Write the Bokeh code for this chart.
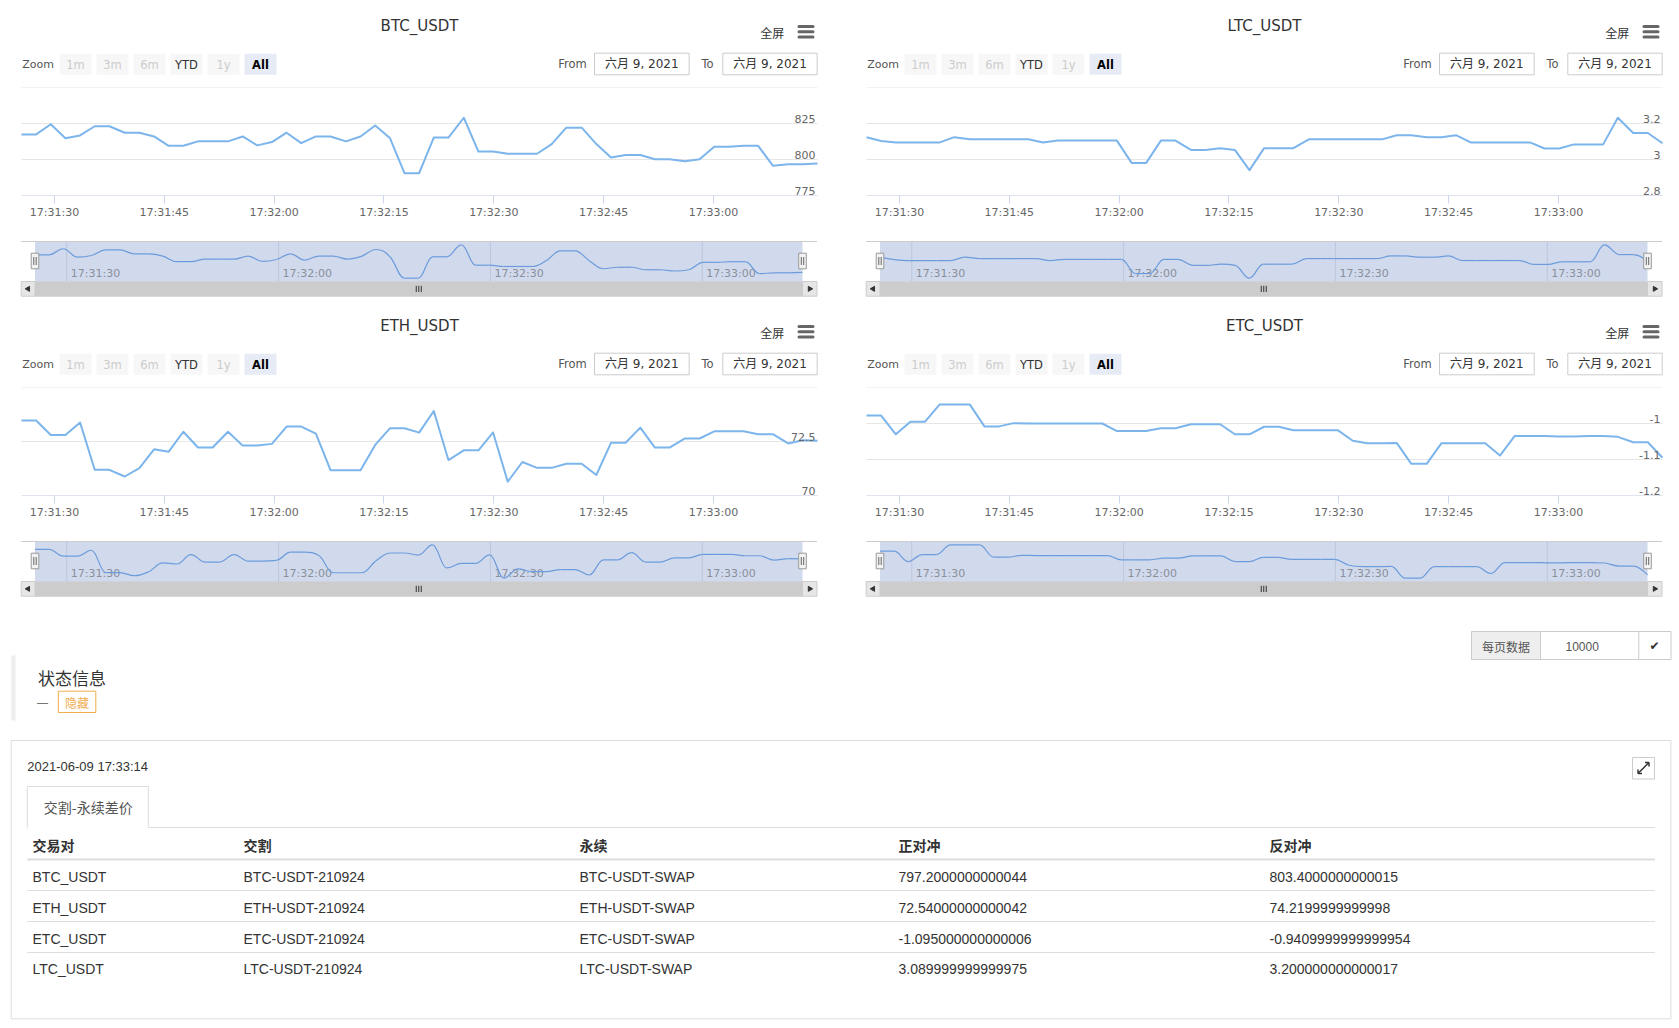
import math
import pandas as pd
from bokeh.plotting import figure
from bokeh.layouts import column, row
from bokeh.models import Range1d, FixedTicker, DatetimeTickFormatter
from bokeh.core.properties import value
from bokeh.embed import file_html
from bokeh.resources import INLINE

# ---------------- data ----------------
DATE = "2021-06-09"
TIMES = [
    "17:31:25.5", "17:31:27.5", "17:31:29.5", "17:31:31.5", "17:31:33.5", "17:31:35.5",
    "17:31:37.5", "17:31:39.6", "17:31:41.6", "17:31:43.6", "17:31:45.6", "17:31:47.6",
    "17:31:49.6", "17:31:51.6", "17:31:53.7", "17:31:55.7", "17:31:57.7", "17:31:59.7",
    "17:32:01.7", "17:32:03.7", "17:32:05.7", "17:32:07.7", "17:32:09.8", "17:32:11.8",
    "17:32:13.8", "17:32:15.8", "17:32:17.8", "17:32:19.8", "17:32:21.8", "17:32:23.8",
    "17:32:25.9", "17:32:27.9", "17:32:29.9", "17:32:31.9", "17:32:33.9", "17:32:35.9",
    "17:32:37.9", "17:32:39.9", "17:32:42.0", "17:32:44.0", "17:32:46.0", "17:32:48.0",
    "17:32:50.0", "17:32:52.0", "17:32:54.0", "17:32:56.1", "17:32:58.1",
    "17:33:00.1", "17:33:02.1", "17:33:04.1", "17:33:06.1", "17:33:08.1", "17:33:10.2",
    "17:33:12.2", "17:33:14.2",
]

BTC = [817.4, 817.4, 824.5, 814.8, 816.7, 823.1, 823.1, 818.6, 818.6, 816.0,
       809.5, 809.5, 812.6, 812.6, 812.6, 816.0, 809.8, 812.1, 818.6, 811.4,
       816.0, 816.0, 812.6, 816.0, 823.6, 815.0, 790.5, 790.5, 815.2, 815.2,
       829.0, 805.5, 805.5, 804.0, 804.0, 804.0, 810.7, 822.1, 822.1, 810.7,
       801.4, 803.1, 803.1, 800.2, 800.2, 798.8, 800.2, 808.8, 808.8, 809.5,
       809.5, 795.7, 796.7, 796.7, 797.2]
LTC = [3.124, 3.103, 3.095, 3.095, 3.095, 3.095, 3.124, 3.112, 3.112, 3.112,
       3.112, 3.112, 3.095, 3.105, 3.105, 3.105, 3.105, 3.105, 2.981, 2.981,
       3.105, 3.105, 3.053, 3.053, 3.063, 3.053, 2.941, 3.063, 3.063, 3.063,
       3.112, 3.112, 3.112, 3.112, 3.112, 3.112, 3.135, 3.135, 3.124, 3.124,
       3.135, 3.095, 3.095, 3.095, 3.095, 3.095, 3.061, 3.061, 3.084, 3.084,
       3.084, 3.232, 3.147, 3.147, 3.09]
ETH = [73.47, 73.47, 72.80, 72.80, 73.38, 71.19, 71.19, 70.88, 71.27, 72.14,
       72.03, 72.95, 72.22, 72.22, 72.95, 72.31, 72.31, 72.39, 73.19, 73.19,
       72.86, 71.17, 71.17, 71.17, 72.34, 73.11, 73.11, 72.91, 73.91, 71.64,
       72.09, 72.09, 72.92, 70.64, 71.55, 71.28, 71.28, 71.47, 71.47, 70.95,
       72.44, 72.44, 73.14, 72.22, 72.22, 72.64, 72.64, 72.97, 72.97, 72.97,
       72.84, 72.84, 72.41, 72.56, 72.54]
ETC = [-0.978, -0.978, -1.030, -0.995, -0.995, -0.947, -0.947, -0.947, -1.008, -1.008,
       -0.999, -1.000, -1.000, -1.000, -1.000, -1.000, -1.000, -1.021, -1.021, -1.021,
       -1.013, -1.013, -1.002, -1.002, -1.002, -1.030, -1.030, -1.009, -1.009, -1.019,
       -1.019, -1.019, -1.019, -1.048, -1.055, -1.055, -1.054, -1.112, -1.112, -1.055,
       -1.055, -1.055, -1.055, -1.089, -1.035, -1.035, -1.035, -1.036, -1.036, -1.035,
       -1.035, -1.037, -1.052, -1.052, -1.095]

BTC_GRID = [775, 800, 825, 850]
BTC_LABEL_AT = [775, 800, 825]
BTC_LABELS = ["775", "800", "825"]
LTC_GRID = [2.8, 3.0, 3.2, 3.4]
LTC_LABEL_AT = [2.8, 3.0, 3.2]
LTC_LABELS = ["2.8", "3", "3.2"]
ETH_GRID = [70, 72.5, 75]
ETH_LABEL_AT = [70, 72.5]
ETH_LABELS = ["70", "72.5"]
ETC_GRID = [-1.2, -1.1, -1.0, -0.9]
ETC_LABEL_AT = [-1.2, -1.1, -1.0]
ETC_LABELS = ["-1.2", "-1.1", "-1"]

MAIN_TICKS = ["17:31:30", "17:31:45", "17:32:00", "17:32:15", "17:32:30", "17:32:45", "17:33:00"]
NAV_TICKS = ["17:31:30", "17:32:00", "17:32:30", "17:33:00"]
NAV_LABELS = ["17:31:30", "17:32:00", "17:32:30", "17:33:00"]

ZOOM_BUTTONS = ["1m", "3m", "6m", "YTD", "1y", "All"]
ZOOM_STATE = ["off", "off", "off", "on", "off", "sel"]
RANGE_DATE = "六月 9, 2021"

STATUS_TIME = "2021-06-09 17:33:14"
TAB_NAME = "交割-永续差价"
HEADERS = ["交易对", "交割", "永续", "正对冲", "反对冲"]
COL_PAIR = ["BTC_USDT", "ETH_USDT", "ETC_USDT", "LTC_USDT"]
COL_DELIVERY = ["BTC-USDT-210924", "ETH-USDT-210924", "ETC-USDT-210924", "LTC-USDT-210924"]
COL_SWAP = ["BTC-USDT-SWAP", "ETH-USDT-SWAP", "ETC-USDT-SWAP", "LTC-USDT-SWAP"]
COL_POS = ["797.2000000000044", "72.54000000000042", "-1.095000000000006", "3.089999999999975"]
COL_NEG = ["803.4000000000015", "74.2199999999998", "-0.9409999999999954", "3.200000000000017"]


def ms(s):
    return pd.Timestamp(f"{DATE} {s}").value / 1e6


T = [ms(s) for s in TIMES]
MAIN_TICK_MS = [ms(s) for s in MAIN_TICKS]
NAV_TICK_MS = [ms(s) for s in NAV_TICKS]

SANS = "DejaVu Sans"
CJK = "Noto Sans CJK SC"
MIX = "DejaVu Sans, Noto Sans CJK SC"
LIB = "Liberation Sans"
LINE_COLOR = "#7cb5ec"


def base_fig(w, h, xr, yr):
    p = figure(width=w, height=h, x_range=xr, y_range=yr, toolbar_location=None, tools="",
               output_backend="svg", x_axis_location=None, y_axis_location=None,
               outline_line_color=None, background_fill_color="white",
               border_fill_color="white", min_border=0)
    p.grid.visible = False
    return p


def txt(p, x, y, s, size, color, font=SANS, align="left", style="normal",
        baseline="middle", **kw):
    p.text(x=[x], y=[y], text=[s], text_font=value(font), text_font_size=value(size),
           text_color=color, text_align=align, text_baseline=baseline,
           text_font_style=style, **kw)


def spline_controls(xs, ys, smoothing=1.5):
    """Bezier control points for a Highcharts-style spline through (xs, ys)."""
    n = len(xs)
    lc, rc = [], []
    d = smoothing + 1
    for i in range(n):
        x, y = xs[i], ys[i]
        if i == 0 or i == n - 1:
            lc.append((x, y))
            rc.append((x, y))
            continue
        lx, ly = xs[i - 1], ys[i - 1]
        nx, ny = xs[i + 1], ys[i + 1]
        lcx, lcy = (smoothing * x + lx) / d, (smoothing * y + ly) / d
        rcx, rcy = (smoothing * x + nx) / d, (smoothing * y + ny) / d
        if rcx != lcx:
            corr = ((rcy - lcy) * (rcx - x)) / (rcx - lcx) + y - rcy
            lcy += corr
            rcy += corr
        if lcy > ly and lcy > y:
            lcy = max(ly, y)
            rcy = 2 * y - lcy
        elif lcy < ly and lcy < y:
            lcy = min(ly, y)
            rcy = 2 * y - lcy
        if rcy > ny and rcy > y:
            rcy = max(ny, y)
            lcy = 2 * y - rcy
        elif rcy < ny and rcy < y:
            rcy = min(ny, y)
            lcy = 2 * y - rcy
        lc.append((lcx, lcy))
        rc.append((rcx, rcy))
    return lc, rc


# ---------------- chart block pieces ----------------
HEAD_H, MAIN_H, NAV_H = 82, 155, 63
FRAME_L, FRAME_R = 21, 817


def header_fig(W, title):
    p = base_fig(W, HEAD_H, Range1d(0, W), Range1d(HEAD_H, 0))
    txt(p, (FRAME_L + FRAME_R) / 2, 25.7, title, "15px", "#333333", align="center")
    txt(p, 771.7, 32.3, "全屏", "12px", "#333333", font=CJK, align="center")
    p.segment(x0=[798.5] * 3, y0=[26.0, 31.2, 36.4], x1=[812.5] * 3, y1=[26.0, 31.2, 36.4],
              line_color="#666666", line_width=3, line_cap="round")
    txt(p, 21.7, 63.5, "Zoom", "11px", "#555555")
    for i, (lab, st) in enumerate(zip(ZOOM_BUTTONS, ZOOM_STATE)):
        left = 59 + 37 * i
        fill = "#e6ebf5" if st == "sel" else "#f7f7f7"
        p.quad(left=[left], right=[left + 32], top=[53.3], bottom=[74.3],
               fill_color=fill, line_color=None)
        color = {"off": "#cccccc", "on": "#333333", "sel": "#000000"}[st]
        txt(p, left + 16, 64.0, lab, "11.5px", color, align="center",
            style="bold" if st == "sel" else "normal")
    txt(p, 557.7, 63.5, "From", "11.5px", "#555555")
    p.quad(left=[594.0], right=[688.7], top=[52.7], bottom=[74.3],
           fill_color="white", line_color="#cccccc")
    txt(p, 641.3, 63.8, RANGE_DATE, "12px", "#333333", font=MIX, align="center")
    txt(p, 701.0, 63.5, "To", "11.5px", "#555555")
    p.quad(left=[722.3], right=[816.7], top=[52.7], bottom=[74.3],
           fill_color="white", line_color="#cccccc")
    txt(p, 769.5, 63.8, RANGE_DATE, "12px", "#333333", font=MIX, align="center")
    return p


def main_fig(W, vals, grid, label_at, labels):
    # frame spans the full width (so stacked figures stay aligned); the data
    # range is widened so the series occupies the plot band FRAME_L..FRAME_R
    mpp = (T[-1] - T[0]) / (FRAME_R - FRAME_L)
    xr = Range1d(T[0] - FRAME_L * mpp, T[0] + (W - FRAME_L) * mpp)
    p = figure(width=W, height=MAIN_H, x_axis_type="datetime",
               x_range=xr, y_range=Range1d(grid[0], grid[-1]),
               toolbar_location=None, tools="", output_backend="svg",
               y_axis_location=None, outline_line_color=None,
               background_fill_color="white", border_fill_color="white",
               min_border_left=0, min_border_right=0,
               min_border_top=5, min_border_bottom=42)
    p.grid.visible = False
    n = len(grid)
    p.segment(x0=[T[0]] * n, y0=grid, x1=[T[-1]] * n, y1=grid,
              line_color="#e6e6e6", line_width=1)
    p.segment(x0=[T[0]], y0=[grid[0]], x1=[T[-1]], y1=[grid[0]],
              line_color="#ccd6eb", line_width=1)
    ax = p.xaxis[0]
    ax.ticker = FixedTicker(ticks=MAIN_TICK_MS)
    f = "%H:%M:%S"
    ax.formatter = DatetimeTickFormatter(milliseconds=f, seconds=f, minsec=f, minutes=f,
                                         hourmin=f, hours=f)
    ax.axis_line_color = None
    ax.major_tick_line_color = "#ccd6eb"
    ax.major_tick_out = 8
    ax.major_tick_in = 0
    ax.minor_tick_line_color = None
    ax.major_label_text_font = SANS
    ax.major_label_text_font_size = "11px"
    ax.major_label_text_color = "#666666"
    ax.major_label_standoff = 2
    p.line(T, vals, line_color=LINE_COLOR, line_width=2, line_join="round")
    p.text(x=[T[-1]] * len(label_at), y=label_at, text=labels, text_font=value(SANS),
           text_font_size=value("11px"), text_color="#666666", text_align="right",
           text_baseline="bottom", x_offset=-2, y_offset=-1)
    return p


NAV_L, NAV_R = 34.5, 802.0
OUT_L, OUT_R = 20.7, 816.5
AREA_T, AREA_B = 4.0, 44.0
SB_T, SB_B = 44.0, 58.7


def nav_fig(W, vals):
    mpp = (T[-1] - T[0]) / (NAV_R - NAV_L)
    xr = Range1d(T[0] - NAV_L * mpp, T[0] + (W - NAV_L) * mpp)
    lo, hi = min(vals), max(vals)
    pad = (hi - lo) * 0.1
    lo, hi = lo - pad, hi + pad
    vpp = (hi - lo) / (AREA_B - AREA_T)
    yr = Range1d(lo - (NAV_H - AREA_B) * vpp, hi + AREA_T * vpp)
    p = base_fig(W, NAV_H, xr, yr)
    p.extra_x_ranges = {"px": Range1d(0, W)}
    p.extra_y_ranges = {"px": Range1d(NAV_H, 0)}
    px = dict(x_range_name="px", y_range_name="px")
    # scrollbar
    p.quad(left=[OUT_L], right=[OUT_R], top=[SB_T], bottom=[SB_B],
           fill_color="#f2f2f2", line_color=None, **px)
    p.quad(left=[NAV_L], right=[NAV_R], top=[SB_T], bottom=[SB_B],
           fill_color="#cccccc", line_color="#cccccc", **px)
    p.quad(left=[OUT_L, NAV_R], right=[NAV_L, OUT_R], top=[SB_T, SB_T], bottom=[SB_B, SB_B],
           fill_color="#e6e6e6", line_color="#cccccc", **px)
    p.scatter(x=[(OUT_L + NAV_L) / 2, (NAV_R + OUT_R) / 2], y=[(SB_T + SB_B) / 2] * 2,
              marker="triangle", size=5, angle=[math.pi / 2, -math.pi / 2],
              fill_color="#333333", line_color="#333333", **px)
    cx = (NAV_L + NAV_R) / 2
    p.segment(x0=[cx - 2.5, cx, cx + 2.5], y0=[48.3] * 3, x1=[cx - 2.5, cx, cx + 2.5],
              y1=[54.5] * 3, line_color="#333333", line_width=1, **px)
    # navigator mask + outline
    p.quad(left=[NAV_L], right=[NAV_R], top=[AREA_T], bottom=[AREA_B],
           fill_color="#d1daed", line_color=None, **px)
    p.segment(x0=[OUT_L], y0=[AREA_T], x1=[OUT_R], y1=[AREA_T],
              line_color="#cccccc", line_width=1, **px)
    # navigator grid and labels (data scales)
    n = len(NAV_TICK_MS)
    p.segment(x0=NAV_TICK_MS, y0=[hi] * n, x1=NAV_TICK_MS, y1=[lo] * n,
              line_color="#bcc6dc", line_width=1)
    ylab = hi - (36.3 - AREA_T) * vpp
    p.text(x=NAV_TICK_MS, y=[ylab] * n, text=NAV_LABELS, text_font=value(SANS),
           text_font_size=value("11px"), text_color="#8a8f99", text_align="left",
           text_baseline="middle", x_offset=4)
    # navigator series drawn as a spline through the data points
    lc, rc = spline_controls(T, vals)
    p.bezier(x0=T[:-1], y0=vals[:-1], x1=T[1:], y1=vals[1:],
             cx0=[c[0] for c in rc[:-1]], cy0=[c[1] for c in rc[:-1]],
             cx1=[c[0] for c in lc[1:]], cy1=[c[1] for c in lc[1:]],
             line_color="#6b9bdb", line_width=1.2)
    # handles
    for hx in (NAV_L, NAV_R):
        p.quad(left=[hx - 3.8], right=[hx + 3.8], top=[15.7], bottom=[31.3],
               fill_color="#f2f2f2", line_color="#999999", **px)
        p.segment(x0=[hx - 1.2, hx + 1.2], y0=[19.5, 19.5], x1=[hx - 1.2, hx + 1.2],
                  y1=[27.5, 27.5], line_color="#666666", line_width=1, **px)
    return p


CHARTS = [
    ("BTC_USDT", BTC, BTC_GRID, BTC_LABEL_AT, BTC_LABELS, 845),
    ("LTC_USDT", LTC, LTC_GRID, LTC_LABEL_AT, LTC_LABELS, 834),
    ("ETH_USDT", ETH, ETH_GRID, ETH_LABEL_AT, ETH_LABELS, 845),
    ("ETC_USDT", ETC, ETC_GRID, ETC_LABEL_AT, ETC_LABELS, 834),
]

blocks = []
for name, vals, grid, lat, labs, W in CHARTS:
    blocks.append(column(header_fig(W, name), main_fig(W, vals, grid, lat, labs),
                         nav_fig(W, vals)))

# ---------------- bottom status panel ----------------
BW, BT, BB = 1679, 600, 1028
b = base_fig(BW, BB - BT, Range1d(0, BW), Range1d(BB, BT))

# per-page control
b.quad(left=[1471], right=[1670.5], top=[631], bottom=[659], fill_color="white",
       line_color="#cccccc")
b.quad(left=[1471], right=[1540], top=[631], bottom=[659], fill_color="#eeeeee",
       line_color="#cccccc")
b.segment(x0=[1638.3], y0=[631], x1=[1638.3], y1=[659], line_color="#cccccc")
txt(b, 1505.5, 645.5, "每页数据", "12px", "#555555", font=CJK, align="center")
txt(b, 1565, 645.5, "10000", "12px", "#555555", font=LIB)
txt(b, 1654, 645.5, "✔", "12px", "#333333", font=SANS, align="center")

# status info header
b.quad(left=[10.7], right=[15], top=[655], bottom=[720], fill_color="#eeeeee",
       line_color=None)
txt(b, 37.5, 677, "状态信息", "17px", "#333333", font=CJK)
txt(b, 36.5, 701.5, "—", "11px", "#555555", font=LIB)
b.quad(left=[57.8], right=[95.3], top=[690.7], bottom=[712], fill_color="white",
       line_color="#f0ad4e")
txt(b, 76.5, 701.5, "隐藏", "12px", "#f0ad4e", font=CJK, align="center")

# panel
b.quad(left=[10.7], right=[1670.4], top=[740], bottom=[1018.3], fill_color=None,
       line_color="#dddddd")
txt(b, 26.8, 766, STATUS_TIME, "13px", "#333333", font=LIB)
b.quad(left=[1632], right=[1654], top=[757], bottom=[778.5], fill_color="white",
       line_color="#cccccc")
b.segment(x0=[1637.5, 1648.5, 1648.5, 1637.5, 1637.5],
          y0=[773, 762, 762, 773, 773],
          x1=[1648.5, 1644.5, 1648.5, 1641.5, 1637.5],
          y1=[762, 762, 766, 773, 769], line_color="#333333", line_width=1.5)

# tab
b.segment(x0=[26.8, 26.8, 147.8, 147.8], y0=[827, 786, 786, 827],
          x1=[26.8, 147.8, 147.8, 1654.4], y1=[786, 786, 827, 827],
          line_color="#dddddd", line_width=1)
txt(b, 87.8, 806.5, TAB_NAME, "14px", "#555555", font=CJK, align="center")

# table
COL_X = [32, 243, 579, 898, 1269]
for x, h in zip(COL_X, HEADERS):
    txt(b, x, 844, h, "14px", "#333333", font=CJK, style="bold")
b.segment(x0=[26.8], y0=[859], x1=[1654.4], y1=[859], line_color="#dddddd", line_width=2)
ROW_Y = [876, 907, 938, 968.5]
SEP_Y = [890, 921, 952]
b.segment(x0=[26.8] * 3, y0=SEP_Y, x1=[1654.4] * 3, y1=SEP_Y, line_color="#dddddd",
          line_width=1)
for x, col in zip(COL_X, [COL_PAIR, COL_DELIVERY, COL_SWAP, COL_POS, COL_NEG]):
    b.text(x=[x] * len(col), y=ROW_Y, text=col, text_font=value(LIB),
           text_font_size=value("14px"), text_color="#333333", text_align="left",
           text_baseline="middle")

layout = column(row(blocks[0], blocks[1]), row(blocks[2], blocks[3]), b)

open("out.html", "w").write(file_html(layout, INLINE))
